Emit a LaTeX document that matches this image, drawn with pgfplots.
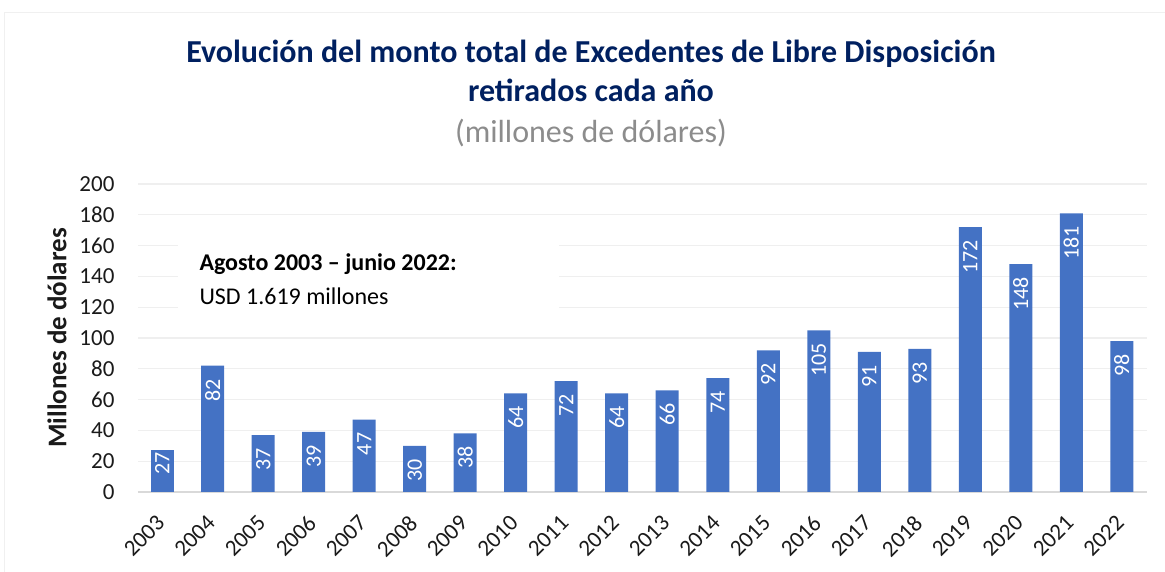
\documentclass[border=0pt]{standalone}
\usepackage{pgfplots}
\pgfplotsset{compat=1.18}
\usepackage{fontspec}
\setmainfont{Carlito}
\definecolor{barblue}{HTML}{4472C4}
\definecolor{titleblue}{HTML}{002060}
\definecolor{subgray}{HTML}{8C8C8C}
\definecolor{gridgray}{HTML}{EFEFEF}
\definecolor{axisgray}{HTML}{D9D9D9}
\definecolor{txt}{HTML}{1A1A1A}
\begin{document}
\begin{tikzpicture}
\begin{axis}[
  anchor=origin,
  width=1009pt, height=308pt, scale only axis,
  xmin=-0.48, xmax=19.5, ymin=0, ymax=200,
  ytick={0,20,...,200},
  xtick={0,...,19},
  xticklabels={2003,2004,2005,2006,2007,2008,2009,2010,2011,2012,2013,2014,2015,2016,2017,2018,2019,2020,2021,2022},
  major tick length=0pt,
  axis x line*=bottom, axis y line*=left,
  x axis line style={draw=axisgray, line width=1.6pt, -},
  y axis line style={draw=none},
  ymajorgrids, grid style={draw=gridgray, line width=1.2pt},
  /pgf/number format/assume math mode=true,
  yticklabel style={font=\fontsize{23}{27}\selectfont, text=txt, xshift=-20pt},
  xticklabel style={font=\fontsize{23}{27}\selectfont, text=txt, xshift=-7pt, yshift=-17pt, rotate=45, anchor=north east},
  ybar, bar width=23pt, bar shift=0pt,
  nodes near coords,
  nodes near coords style={font=\fontsize{22}{26}\selectfont, text=white, rotate=90, anchor=east, inner xsep=13pt, inner ysep=2pt},
  clip=false,
]
\addplot[fill=barblue, draw=none] coordinates {
(1,82) (2,37) (3,39) (4,47) (5,30) (6,38) (7,64) (8,72) (9,64)
(10,66) (11,74) (12,92) (13,105) (14,91) (15,93) (16,172) (17,148) (18,181) (19,98)};
\addplot[fill=barblue, draw=none, nodes near coords style={inner xsep=2pt}] coordinates {(0,27)};
\end{axis}
\begin{scope}[shift={(current axis.origin)}, xshift=-162.24pt, yshift=-80pt, x=1pt, y=1pt]
\pgfresetboundingbox
\useasboundingbox (0,0) rectangle (1165,572);
\draw[gray!12, line width=1pt] (5,0) -- (5,559) -- (1165,559);
\fill[white] (178,247) rectangle (559,347);
\node[anchor=base west, font=\fontsize{24}{28}\selectfont\bfseries, text=black] at (196,301) {Agosto 2003 – junio 2022:};
\node[anchor=base west, font=\fontsize{24}{28}\selectfont, text=black] at (196,267) {USD 1.619 millones};
\node[rotate=90, font=\fontsize{27}{31}\selectfont\bfseries, text=txt] at (57,234) {Millones de dólares};
\node[anchor=base, font=\fontsize{32}{36}\selectfont\bfseries, text=titleblue] at (591,509) {Evolución del monto total de Excedentes de Libre Disposición};
\node[anchor=base, font=\fontsize{32}{36}\selectfont\bfseries, text=titleblue] at (591,470) {retirados cada año};
\node[anchor=base, font=\fontsize{32}{36}\selectfont, text=subgray] at (591,429) {(millones de dólares)};
\end{scope}
\end{tikzpicture}
\end{document}
